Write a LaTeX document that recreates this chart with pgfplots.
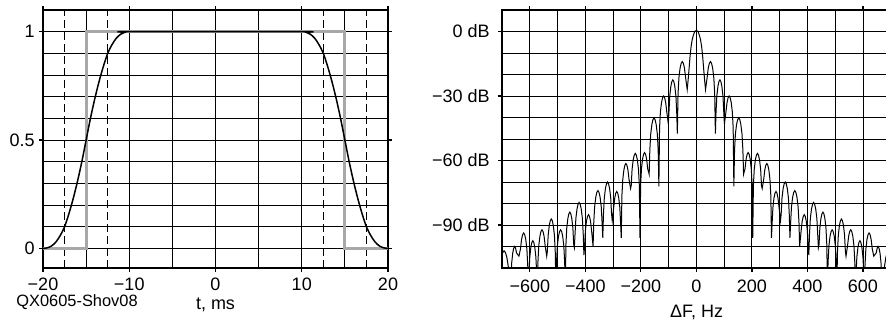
\documentclass[border=0pt]{standalone}
\usepackage{fontspec}
\setmainfont{Liberation Sans}
\usepackage{pgfplots}
\usepackage{pgfplotstable}
\pgfplotsset{compat=1.18}
\definecolor{rectgray}{RGB}{168,168,168}

\pgfplotstableread{
t v
-20 0
-19.5 0.003
-19 0.012
-18.5 0.03
-18 0.06
-17.5 0.1
-17 0.16
-16.5 0.23
-16 0.31
-15.5 0.4
-15 0.5
-14.5 0.6
-14 0.69
-13.5 0.77
-13 0.84
-12.5 0.9
-12 0.94
-11.5 0.97
-11 0.988
-10.5 0.997
-10 1
10 1
10.5 0.997
11 0.988
11.5 0.97
12 0.94
12.5 0.9
13 0.84
13.5 0.77
14 0.69
14.5 0.6
15 0.5
15.5 0.4
16 0.31
16.5 0.23
17 0.16
17.5 0.1
18 0.06
18.5 0.03
19 0.012
19.5 0.003
20 0
}\pulse

\pgfplotstableread{
t v
-20 0
-15 0
-15 1
15 1
15 0
20 0
}\rect

\pgfplotstableread{
f db
0 0.5
6 0
11 -1.8
15 -3.8
19 -7
23 -12
27 -18.5
30 -23
33 -27
38.7 -21.5
42.9 -17
46.8 -14.8
50.8 -14
54.7 -14.8
58.6 -17
62.8 -21.5
66.0 -29
68.5 -47.5
70.8 -37.5
73.7 -30
77.6 -25.5
81.2 -23.3
84.8 -22.5
88.3 -23.3
91.9 -25.5
95.8 -30
98.7 -37.5
101 -43
106.4 -37.5
110.5 -33
114.3 -30.8
118 -30
121.7 -30.8
125.5 -33
129.6 -37.5
132.6 -45
135 -72
137.5 -55.2
140.6 -47.7
144.8 -43.2
148.7 -41
152.5 -40.2
156.4 -41
160.2 -43.2
164.4 -47.7
167.6 -55.2
170 -66.4
175.3 -63.8
179.2 -59.3
182.9 -57.1
186.5 -56.3
190.1 -57.1
193.8 -59.3
197.7 -63.8
200.7 -71.3
203 -96
205.4 -71.7
208.4 -64.2
212.5 -59.7
216.3 -57.5
220 -56.7
223.7 -57.5
227.5 -59.7
231.6 -64.2
234.6 -71.7
237 -73
242.4 -68.9
246.4 -64.4
250.1 -62.2
253.8 -61.4
257.4 -62.2
261.1 -64.4
265.1 -68.9
268.2 -76.4
270.5 -96
272.8 -89.4
275.7 -81.9
279.6 -77.4
283.2 -75.2
286.8 -74.4
290.3 -75.2
293.9 -77.4
297.8 -81.9
303 -88
305.4 -85
308.4 -77.5
312.5 -73
316.3 -70.8
320 -70
323.7 -70.8
327.5 -73
331.6 -77.5
334.6 -85
337 -96
339.5 -89
342.6 -81.5
346.8 -77
350.7 -74.8
354.5 -74
358.4 -74.8
362.2 -77
366.4 -81.5
369.6 -89
372 -100
377.3 -92.7
381.2 -88.2
384.9 -86
388.5 -85.2
392.1 -86
395.8 -88.2
399.7 -92.7
402.7 -100.2
405 -104
407.4 -94.5
410.5 -87
414.7 -82.5
418.5 -80.3
422.3 -79.5
426 -80.3
429.8 -82.5
434 -87
437.1 -94.5
439.5 -100.5
441.8 -99
444.7 -91.5
448.6 -87
452.2 -84.8
455.8 -84
459.3 -84.8
462.9 -87
466.8 -91.5
469.7 -99
472 -118
474.4 -107.2
477.4 -99.7
481.5 -95.2
485.3 -93
489 -92.2
492.7 -93
496.5 -95.2
500.6 -99.7
503.6 -107.2
506 -118
508.3 -102.2
511.3 -94.7
515.2 -90.2
518.9 -88
522.5 -87.2
526.1 -88
529.8 -90.2
533.7 -94.7
536.7 -102.2
539 -104.5
544.4 -99.7
548.5 -95.2
552.3 -93
556 -92.2
559.7 -93
563.5 -95.2
567.6 -99.7
570.6 -107.2
573 -118
575.2 -112.3
578.1 -104.8
582 -100.3
585.5 -98.1
589 -97.3
592.5 -98.1
596 -100.3
599.9 -104.8
602.8 -112.3
605 -118
607.4 -108.7
610.4 -101.2
614.5 -96.7
618.3 -94.5
622 -93.7
625.7 -94.5
629.5 -96.7
633.6 -101.2
639 -104.5
647.7 -103
651.1 -100.8
654.5 -100
657.9 -100.8
661.3 -103
665 -107.5
667.8 -115
670 -118
673.2 -117
677.2 -109.5
682.6 -105
687.6 -102.8
692.5 -102
697.5 -102.8
702.4 -105
707.8 -109.5
711.9 -117
715 -118
}\specpos

\pgfplotstableread{
f db
0 0.5
-6 0
-11 -1.8
-15 -3.8
-19 -7
-23 -12
-27 -18.5
-30 -23
-33 -27
-38.7 -21.5
-42.9 -17
-46.8 -14.8
-50.8 -14
-54.7 -14.8
-58.6 -17
-62.8 -21.5
-66.0 -29
-68.5 -47.5
-70.8 -37.5
-73.7 -30
-77.6 -25.5
-81.2 -23.3
-84.8 -22.5
-88.3 -23.3
-91.9 -25.5
-95.8 -30
-98.7 -37.5
-101 -43
-106.4 -37.5
-110.5 -33
-114.3 -30.8
-118 -30
-121.7 -30.8
-125.5 -33
-129.6 -37.5
-132.6 -45
-135 -72
-137.5 -55.2
-140.6 -47.7
-144.8 -43.2
-148.7 -41
-152.5 -40.2
-156.4 -41
-160.2 -43.2
-164.4 -47.7
-167.6 -55.2
-170 -66.4
-175.3 -63.8
-179.2 -59.3
-182.9 -57.1
-186.5 -56.3
-190.1 -57.1
-193.8 -59.3
-197.7 -63.8
-200.7 -71.3
-203 -96
-205.4 -71.7
-208.4 -64.2
-212.5 -59.7
-216.3 -57.5
-220 -56.7
-223.7 -57.5
-227.5 -59.7
-231.6 -64.2
-234.6 -71.7
-237 -73
-242.4 -68.9
-246.4 -64.4
-250.1 -62.2
-253.8 -61.4
-257.4 -62.2
-261.1 -64.4
-265.1 -68.9
-268.2 -76.4
-270.5 -96
-272.8 -89.4
-275.7 -81.9
-279.6 -77.4
-283.2 -75.2
-286.8 -74.4
-290.3 -75.2
-293.9 -77.4
-297.8 -81.9
-303 -88
-305.4 -85
-308.4 -77.5
-312.5 -73
-316.3 -70.8
-320 -70
-323.7 -70.8
-327.5 -73
-331.6 -77.5
-334.6 -85
-337 -96
-339.5 -89
-342.6 -81.5
-346.8 -77
-350.7 -74.8
-354.5 -74
-358.4 -74.8
-362.2 -77
-366.4 -81.5
-369.6 -89
-372 -100
-377.3 -92.7
-381.2 -88.2
-384.9 -86
-388.5 -85.2
-392.1 -86
-395.8 -88.2
-399.7 -92.7
-402.7 -100.2
-405 -104
-407.4 -94.5
-410.5 -87
-414.7 -82.5
-418.5 -80.3
-422.3 -79.5
-426 -80.3
-429.8 -82.5
-434 -87
-437.1 -94.5
-439.5 -100.5
-441.8 -99
-444.7 -91.5
-448.6 -87
-452.2 -84.8
-455.8 -84
-459.3 -84.8
-462.9 -87
-466.8 -91.5
-469.7 -99
-472 -118
-474.4 -107.2
-477.4 -99.7
-481.5 -95.2
-485.3 -93
-489 -92.2
-492.7 -93
-496.5 -95.2
-500.6 -99.7
-503.6 -107.2
-506 -118
-508.3 -102.2
-511.3 -94.7
-515.2 -90.2
-518.9 -88
-522.5 -87.2
-526.1 -88
-529.8 -90.2
-533.7 -94.7
-536.7 -102.2
-539 -104.5
-544.4 -99.7
-548.5 -95.2
-552.3 -93
-556 -92.2
-559.7 -93
-563.5 -95.2
-567.6 -99.7
-570.6 -107.2
-573 -118
-575.2 -112.3
-578.1 -104.8
-582 -100.3
-585.5 -98.1
-589 -97.3
-592.5 -98.1
-596 -100.3
-599.9 -104.8
-602.8 -112.3
-605 -118
-607.4 -108.7
-610.4 -101.2
-614.5 -96.7
-618.3 -94.5
-622 -93.7
-625.7 -94.5
-629.5 -96.7
-633.6 -101.2
-639 -104.5
-647.7 -103
-651.1 -100.8
-654.5 -100
-657.9 -100.8
-661.3 -103
-665 -107.5
-667.8 -115
-670 -118
-673.2 -117
-677.2 -109.5
-682.6 -105
-687.6 -102.8
-692.5 -102
-697.5 -102.8
-702.4 -105
-707.8 -109.5
-711.9 -117
-715 -118
}\specneg

\pgfplotsset{
  myaxis/.style={
    scale only axis, anchor=south west,
    height=129pt,
    grid=both,
    major grid style={black, line width=0.45pt},
    minor grid style={black, line width=0.45pt},
    tick align=outside, major tick length=2pt, minor tick length=0pt,
    tick style={black, line width=0.6pt},
    every tick label/.append style={font=\fontsize{9}{10.8}\selectfont, inner sep=0pt},
    xticklabel style={anchor=base},
    yticklabel style={anchor=east},
  }
}

\begin{document}
\fontsize{9}{10.8}\selectfont
\begin{tikzpicture}
\path[use as bounding box] (0,0) rectangle (443pt,161pt);
\begin{axis}[myaxis,
  at={(21.5pt,27pt)}, width=172.5pt,
  xmin=-20, xmax=20, ymin=-0.09, ymax=1.1,
  xtick={-20,-10,0,10,20}, xticklabels={−20,−10,0,10,20},
  minor xtick={-15,-5,5,15},
  ytick={0,0.5,1}, yticklabels={0,0.5,1},
  minor ytick={0.1,0.2,0.3,0.4,0.6,0.7,0.8,0.9},
  extra x ticks={-17.5,-12.5,12.5,17.5}, extra x tick labels={},
  extra x tick style={grid=major, major tick length=0pt,
     major grid style={black, line width=0.45pt, dash pattern=on 4pt off 2pt}},
  xticklabel style={yshift=-9.4pt},
  yticklabel style={xshift=-2pt},
  axis line style={line width=1pt},
]
\addplot[rectgray, line width=1.5pt] table[x=t, y=v] {\rect};
\addplot[black, line width=0.75pt, smooth] table[x=t, y=v] {\pulse};
\end{axis}
\node[anchor=base] at (107.75pt,6.3pt) {t, ms};
\node[anchor=base west, font=\fontsize{8.2}{9.8}\selectfont] at (5pt,7.8pt) {QX0605-Shov08};
\begin{axis}[myaxis,
  at={(251pt,27pt)}, width=192pt,
  xmin=-700, xmax=683, ymin=-110, ymax=10,
  xtick={-600,-400,-200,0,200,400,600},
  xticklabels={−600,−400,−200,0,200,400,600},
  minor xtick={-700,-500,-300,-100,100,300,500},
  ytick={-90,-60,-30,0}, yticklabels={−90 dB,−60 dB,−30 dB,0 dB},
  minor ytick={-100,-80,-70,-50,-40,-20,-10},
  xticklabel style={yshift=-10.2pt},
  yticklabel style={xshift=-4pt},
  axis line style={draw=none},
  clip mode=individual,
]
\addplot[black, line width=0.5pt] table[x=f, y=db] {\specpos};
\addplot[black, line width=0.5pt] table[x=f, y=db] {\specneg};
\draw[black, line width=1pt] (rel axis cs:1,1) -- (rel axis cs:0,1) -- (rel axis cs:0,0) -- (rel axis cs:1,0);
\end{axis}
\node[anchor=base] at (348.3pt,2.2pt) {ΔF, Hz};
\end{tikzpicture}
\end{document}
